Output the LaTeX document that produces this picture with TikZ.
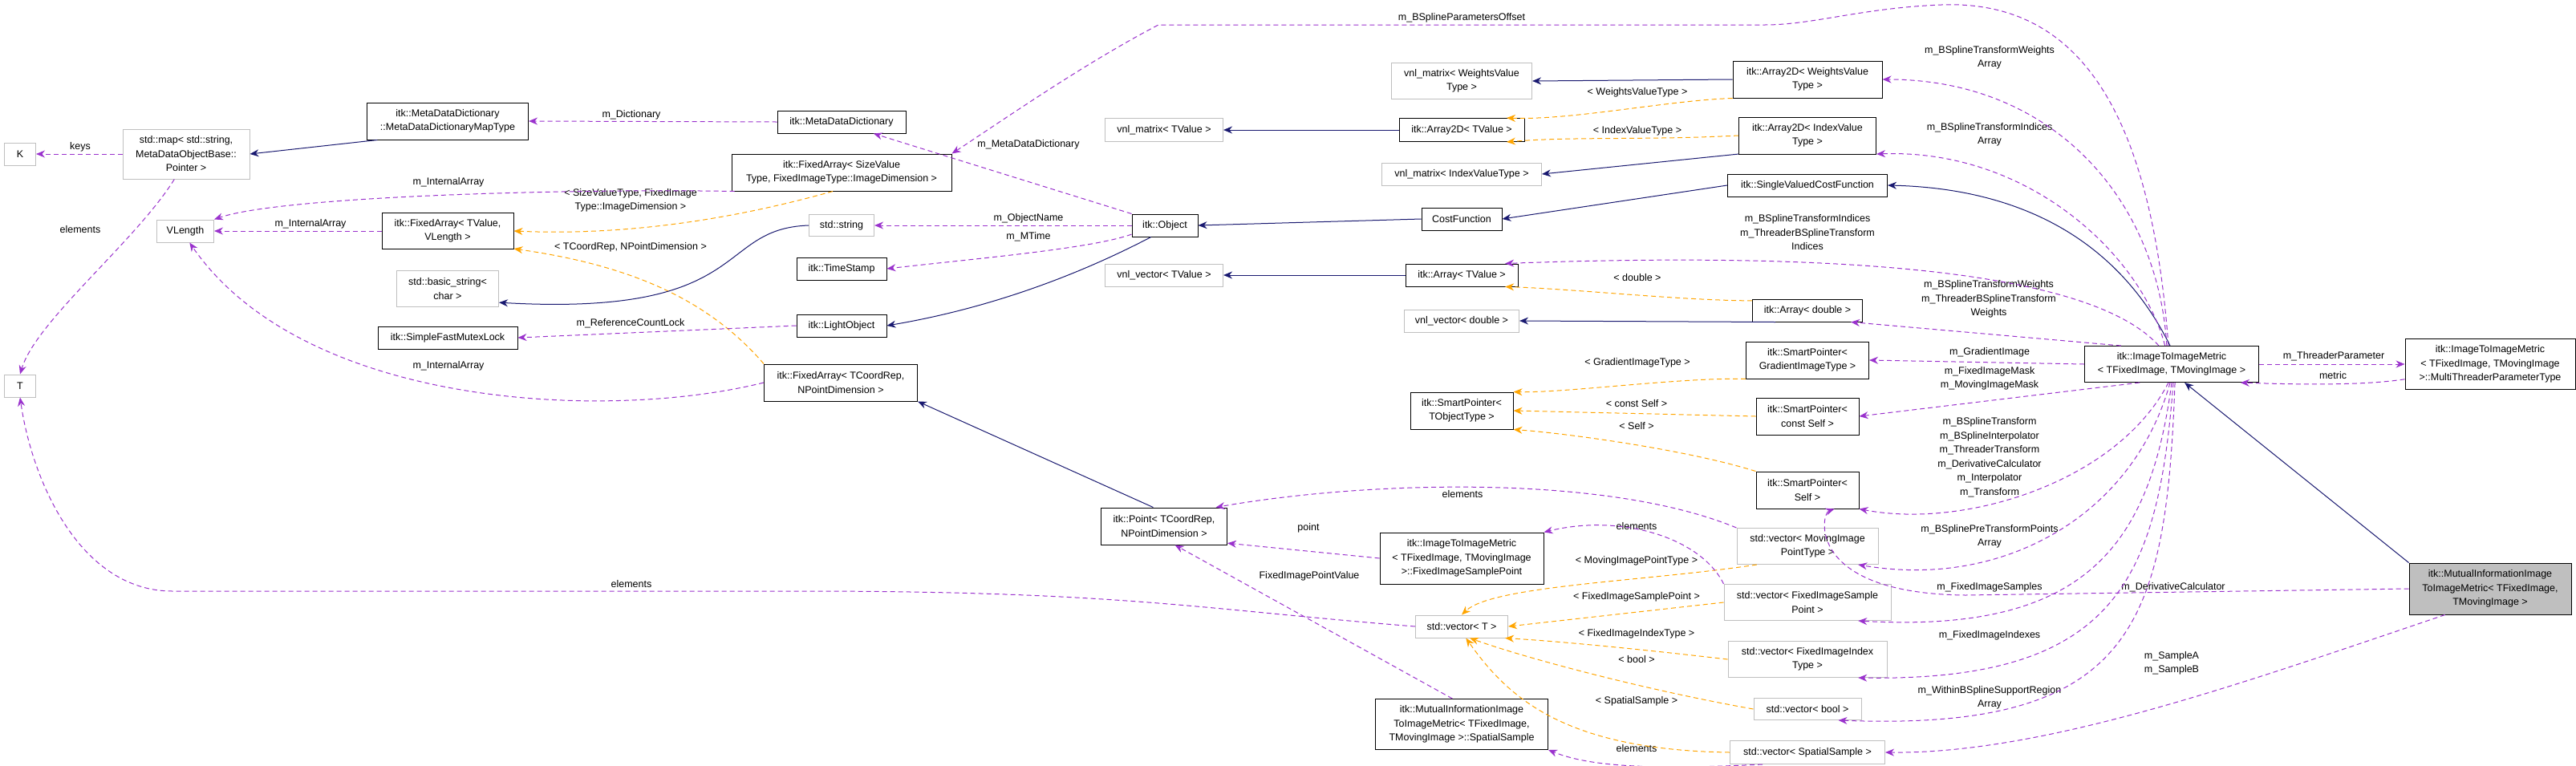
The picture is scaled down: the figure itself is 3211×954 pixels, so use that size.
\documentclass[tikz,border=0pt]{standalone}
\usepackage{fontspec}
\setmainfont{Liberation Sans}
\usetikzlibrary{arrows.meta}
\definecolor{nav}{RGB}{25,25,112}
\definecolor{pur}{RGB}{154,50,205}
\definecolor{ora}{RGB}{255,165,0}
\definecolor{gbd}{RGB}{191,191,191}
\tikzset{
 box/.style={draw=black,line width=1pt,align=center,inner sep=2pt,font=\fontsize{12.5}{17.5}\selectfont},
 gbox/.style={box,draw=gbd},
 lbl/.style={align=center,inner sep=0pt,font=\fontsize{12.5}{17.5}\selectfont},
 inh/.style={draw=nav,line width=1pt,-{Stealth[length=11pt,width=9pt]}},
 use/.style={draw=pur,line width=1pt,dash pattern=on 6pt off 4pt,-{Stealth[length=11pt,width=9pt]}},
 tpl/.style={draw=ora,line width=1pt,dash pattern=on 6pt off 4pt,-{Stealth[length=11pt,width=9pt]}},
}
\newcommand{\bx}[6]{\node[#1,minimum width=#4pt,minimum height=#5pt] (#2) at (#3) {#6};}
\begin{document}
\begin{tikzpicture}[x=1pt,y=-1pt]
\useasboundingbox[fill=white] (0,0) rectangle (3211,954);
\bx{gbox}{K}{25,192}{39}{28}{K}
\bx{gbox}{map}{232,192}{158}{62}{std::map< std::string,\\ MetaDataObjectBase::\\ Pointer >}
\bx{box}{mapt}{558,151}{201}{46}{itk::MetaDataDictionary\\ ::MetaDataDictionaryMapType}
\bx{box}{mdd}{1049,152}{160}{28}{itk::MetaDataDictionary}
\bx{box}{fasv}{1049,215}{274}{46}{itk::FixedArray< SizeValue\\ Type, FixedImageType::ImageDimension >}
\bx{gbox}{vlen}{231,288}{71}{28}{VLength}
\bx{box}{fatv}{558,288}{164}{45}{itk::FixedArray< TValue,\\ VLength >}
\bx{gbox}{str}{1049,281}{81}{27}{std::string}
\bx{box}{ts}{1049,335}{112}{28}{itk::TimeStamp}
\bx{gbox}{bstr}{558,360}{127}{45}{std::basic\_string<\\ char >}
\bx{box}{mutex}{558,421}{174}{28}{itk::SimpleFastMutexLock}
\bx{box}{light}{1049,406}{112}{28}{itk::LightObject}
\bx{box}{fatc}{1048,477}{191}{46}{itk::FixedArray< TCoordRep,\\ NPointDimension >}
\bx{gbox}{T}{25,481}{39}{28}{T}
\bx{gbox}{vmw}{1822,101}{175}{45}{vnl\_matrix< WeightsValue\\ Type >}
\bx{gbox}{vmt}{1451,162}{147}{29}{vnl\_matrix< TValue >}
\bx{box}{a2t}{1822,162}{156}{29}{itk::Array2D< TValue >}
\bx{gbox}{vmi}{1822,217}{199}{28}{vnl\_matrix< IndexValueType >}
\bx{box}{obj}{1452,281}{82}{28}{itk::Object}
\bx{box}{cost}{1822,273}{100}{28}{CostFunction}
\bx{gbox}{vvt}{1451,343}{147}{28}{vnl\_vector< TValue >}
\bx{box}{at}{1822,343}{140}{28}{itk::Array< TValue >}
\bx{gbox}{vvd}{1822,400}{143}{28}{vnl\_vector< double >}
\bx{box}{a2w}{2253,99}{186}{46}{itk::Array2D< WeightsValue\\ Type >}
\bx{box}{a2i}{2253,169}{171}{46}{itk::Array2D< IndexValue\\ Type >}
\bx{box}{svcf}{2253,231}{199}{28}{itk::SingleValuedCostFunction}
\bx{box}{ad}{2253,387}{137}{28}{itk::Array< double >}
\bx{box}{spg}{2253,449}{153}{46}{itk::SmartPointer<\\ GradientImageType >}
\bx{box}{spc}{2253,519}{128}{46}{itk::SmartPointer<\\ const Self >}
\bx{box}{sps}{2253,611}{128}{46}{itk::SmartPointer<\\ Self >}
\bx{gbox}{vmp}{2253,681}{176}{45}{std::vector< MovingImage\\ PointType >}
\bx{gbox}{vfs}{2253,751}{208}{45}{std::vector< FixedImageSample\\ Point >}
\bx{gbox}{vfi}{2253,822}{198}{45}{std::vector< FixedImageIndex\\ Type >}
\bx{gbox}{vb}{2253,884}{134}{27}{std::vector< bool >}
\bx{gbox}{vss}{2253,938}{193}{29}{std::vector< SpatialSample >}
\bx{box}{sto}{1822,512}{128}{46}{itk::SmartPointer<\\ TObjectType >}
\bx{box}{pt}{1451,656}{157}{46}{itk::Point< TCoordRep,\\ NPointDimension >}
\bx{box}{fisp}{1822,696}{204}{64}{itk::ImageToImageMetric\\ < TFixedImage, TMovingImage\\ >::FixedImageSamplePoint}
\bx{gbox}{vt}{1822,781}{115}{28}{std::vector< T >}
\bx{box}{ss}{1822,903}{215}{63}{itk::MutualInformationImage\\ ToImageMetric< TFixedImage,\\ TMovingImage >::SpatialSample}
\bx{box}{iim}{2707,454}{217}{45}{itk::ImageToImageMetric\\ < TFixedImage, TMovingImage >}
\bx{box}{mtp}{3104,454}{212}{63}{itk::ImageToImageMetric\\ < TFixedImage, TMovingImage\\ >::MultiThreaderParameterType}
\node[box,fill=gbd,minimum width=202pt,minimum height=64pt] (mi) at (3104,734) {itk::MutualInformationImage\\ ToImageMetric< TFixedImage,\\ TMovingImage >};
% labels
\node[lbl] (l1) at (100,183) {keys};
\node[lbl] (l2) at (100,286) {elements};
\node[lbl] (l3) at (787,143) {m\_Dictionary};
\node[lbl] (l4) at (559,227) {m\_InternalArray};
\node[lbl] (l5) at (786,250) {< SizeValueType, FixedImage\\ Type::ImageDimension >};
\node[lbl] (l6) at (387,279) {m\_InternalArray};
\node[lbl] (l7) at (786,308) {< TCoordRep, NPointDimension >};
\node[lbl] (l8) at (786,403) {m\_ReferenceCountLock};
\node[lbl] (l9) at (559,456) {m\_InternalArray};
\node[lbl] (l10) at (787,728) {elements};
\node[lbl] (l11) at (1822,22) {m\_BSplineParametersOffset};
\node[lbl] (l12) at (1282,180) {m\_MetaDataDictionary};
\node[lbl] (l13) at (1282,272) {m\_ObjectName};
\node[lbl] (l14) at (1282,295) {m\_MTime};
\node[lbl] (l15) at (2041,115) {< WeightsValueType >};
\node[lbl] (l16) at (2041,163) {< IndexValueType >};
\node[lbl] (l17) at (2041,346) {< double >};
\node[lbl] (l18) at (2041,452) {< GradientImageType >};
\node[lbl] (l19) at (2040,503) {< const Self >};
\node[lbl] (l20) at (2040,531) {< Self >};
\node[lbl] (l21) at (1823,616) {elements};
\node[lbl] (l22) at (1631,658) {point};
\node[lbl] (l23) at (1632,718) {FixedImagePointValue};
\node[lbl] (l24) at (2040,656) {elements};
\node[lbl] (l25) at (2040,699) {< MovingImagePointType >};
\node[lbl] (l26) at (2040,744) {< FixedImageSamplePoint >};
\node[lbl] (l27) at (2040,790) {< FixedImageIndexType >};
\node[lbl] (l28) at (2040,822) {< bool >};
\node[lbl] (l29) at (2040,874) {< SpatialSample >};
\node[lbl] (l30) at (2040,933) {elements};
\node[lbl] (l31) at (2480,72) {m\_BSplineTransformWeights\\ Array};
\node[lbl] (l32) at (2480,168) {m\_BSplineTransformIndices\\ Array};
\node[lbl] (l33) at (2253,290) {m\_BSplineTransformIndices\\ m\_ThreaderBSplineTransform\\ Indices};
\node[lbl] (l34) at (2479,373) {m\_BSplineTransformWeights\\ m\_ThreaderBSplineTransform\\ Weights};
\node[lbl] (l35) at (2480,439) {m\_GradientImage};
\node[lbl] (l36) at (2480,472) {m\_FixedImageMask\\ m\_MovingImageMask};
\node[lbl] (l37) at (2480,570) {m\_BSplineTransform\\ m\_BSplineInterpolator\\ m\_ThreaderTransform\\ m\_DerivativeCalculator\\ m\_Interpolator\\ m\_Transform};
\node[lbl] (l38) at (2480,669) {m\_BSplinePreTransformPoints\\ Array};
\node[lbl] (l39) at (2480,732) {m\_FixedImageSamples};
\node[lbl] (l40) at (2709,732) {m\_DerivativeCalculator};
\node[lbl] (l41) at (2480,792) {m\_FixedImageIndexes};
\node[lbl] (l42) at (2707,827) {m\_SampleA\\ m\_SampleB};
\node[lbl] (l43) at (2480,870) {m\_WithinBSplineSupportRegion\\ Array};
\node[lbl] (l44) at (2909,444) {m\_ThreaderParameter};
\node[lbl] (l45) at (2908,468) {metric};
% edges left
\draw[use] (map.west) -- (K.east);
\draw[use] (map.-115) .. controls (170,300) and (45,400) .. (T.north);
\draw[inh] (mapt.-165) -- (map.east);
\draw[use] (mdd.west) -- (mapt.east);
\draw[use] (fasv.-170) .. controls (700,235) and (350,245) .. (vlen.north east);
\draw[tpl] (fasv.-115) .. controls (890,280) and (760,293) .. (fatv.east);
\draw[use] (fatv.west) -- (vlen.east);
\draw[tpl] (fatc.north west) .. controls (880,370) and (780,330) .. (fatv.-15);
\draw[use] (fatc.west) .. controls (760,525) and (380,510) .. (vlen.-70);
\draw[inh] (str.west) .. controls (890,285) and (940,395) .. (bstr.-15);
\draw[use] (obj.west) -- (str.east);
\draw[use] (obj.-165) .. controls (1360,310) and (1220,322) .. (ts.east);
\draw[inh] (obj.-140) .. controls (1340,345) and (1230,385) .. (light.east);
\draw[use] (light.west) -- (mutex.east);
\draw[use] (obj.north west) -- (mdd.-20);
\draw[use] (iim.100) .. controls (2680,120) and (2580,0) .. (2420,6) .. controls (2320,10) and (2260,31) .. (2200,31) -- (1444,31) .. controls (1350,80) and (1250,150) .. (fasv.north east);
% inheritance middle
\draw[inh] (cost.west) -- (obj.east);
\draw[inh] (svcf.west) -- (cost.east);
\draw[inh] (iim.95) .. controls (2640,300) and (2520,235) .. (svcf.east);
\draw[inh] (a2w.west) -- (vmw.east);
\draw[tpl] (a2w.south west) .. controls (2080,125) and (1960,150) .. (a2t.15);
\draw[tpl] (a2i.west) .. controls (2050,175) and (1960,170) .. (a2t.-15);
\draw[inh] (a2i.-165) -- (vmi.east);
\draw[inh] (a2t.west) -- (vmt.east);
\draw[inh] (at.west) -- (vvt.east);
\draw[tpl] (ad.170) .. controls (2100,375) and (1960,360) .. (at.-15);
\draw[inh] (ad.-160) -- (vvd.east);
% iim usages
\draw[use] (iim.105) .. controls (2690,250) and (2560,99) .. (a2w.east);
\draw[use] (iim.110) .. controls (2670,320) and (2530,185) .. (a2i.-15);
\draw[use] (iim.125) .. controls (2600,330) and (2250,315) .. (at.15);
\draw[use] (iim.160) -- (ad.-15);
\draw[use] (iim.west) -- (spg.east);
\draw[use] (iim.-150) -- (spc.east);
\draw[use] (iim.-100) .. controls (2640,600) and (2450,660) .. (sps.-20);
\draw[use] (iim.-95) .. controls (2660,640) and (2500,735) .. (vmp.-20);
\draw[use] (iim.-90) .. controls (2680,680) and (2600,790) .. (vfs.-20);
\draw[use] (iim.-85) .. controls (2690,720) and (2640,850) .. (vfi.-20);
\draw[use] (iim.-80) .. controls (2700,780) and (2660,912) .. (vb.-20);
\draw[use] (iim.east) -- (mtp.west);
\draw[use] (mtp.-170) .. controls (2950,480) and (2880,480) .. (iim.-15);
\draw[inh] (mi.north west) -- (iim.-55);
\draw[use] (mi.west) -- (2450,742) .. controls (2250,740) and (2270,640) .. (sps.-35);
\draw[use] (mi.-150) .. controls (2800,850) and (2550,940) .. (vss.east);
% smart pointers
\draw[tpl] (spg.south west) .. controls (2100,470) and (1950,490) .. (sto.20);
\draw[tpl] (spc.west) -- (sto.east);
\draw[tpl] (sps.north west) .. controls (2100,560) and (1950,540) .. (sto.-20);
% vectors
\draw[use] (vmp.north west) .. controls (2000,590) and (1700,600) .. (pt.20);
\draw[tpl] (vmp.-160) .. controls (2050,725) and (1860,730) .. (vt.north);
\draw[use] (fisp.west) -- (pt.-15);
\draw[use] (vfs.north west) .. controls (2120,670) and (2020,640) .. (fisp.north east);
\draw[tpl] (vfs.west) -- (vt.east);
\draw[tpl] (vfi.west) .. controls (2050,810) and (1950,800) .. (vt.-15);
\draw[tpl] (vb.west) .. controls (2050,860) and (1900,820) .. (vt.-55);
\draw[tpl] (vss.west) .. controls (1950,935) and (1880,870) .. (vt.-70);
\draw[use] (vss.-165) .. controls (2050,960) and (1980,955) .. (ss.south east);
\draw[use] (ss.110) -- (pt.-60);
\draw[use] (vt.west) .. controls (1500,760) and (1400,737) .. (1000,737) -- (215,737) .. controls (100,737) and (40,600) .. (T.south);
\draw[inh] (pt.120) -- (fatc.south east);
\end{tikzpicture}
\end{document}
